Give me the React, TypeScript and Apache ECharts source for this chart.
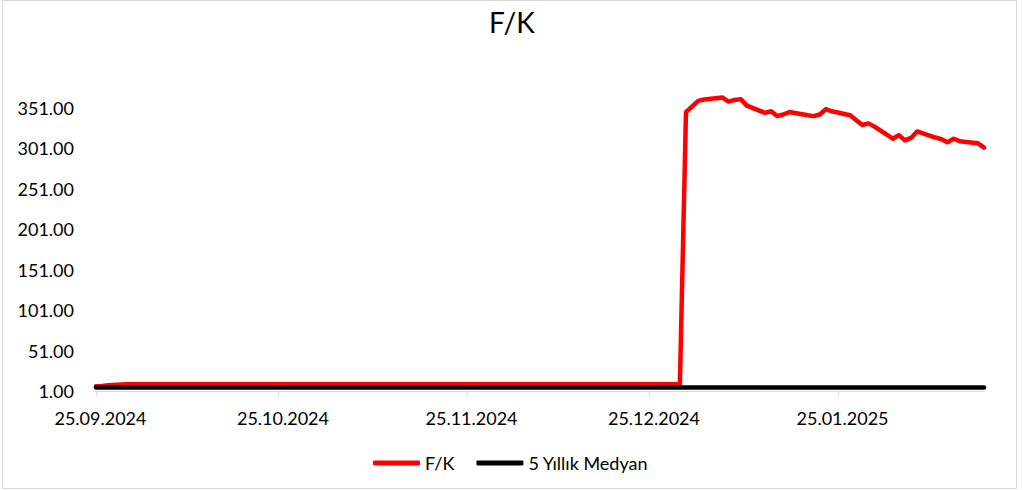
import React, { useEffect, useRef } from "react";
import * as echarts from "echarts";

// ---- data ----
const fkDates = [
  "2024-09-25", "2024-09-26", "2024-09-27", "2024-09-30", "2024-10-15", "2024-11-01",
  "2024-11-15", "2024-12-02", "2024-12-16", "2024-12-30", "2024-12-31", "2025-01-02",
  "2025-01-03", "2025-01-06", "2025-01-07", "2025-01-08", "2025-01-09", "2025-01-10",
  "2025-01-13", "2025-01-14", "2025-01-15", "2025-01-16", "2025-01-17", "2025-01-20",
  "2025-01-21", "2025-01-22", "2025-01-23", "2025-01-24", "2025-01-27", "2025-01-28",
  "2025-01-29", "2025-01-30", "2025-01-31", "2025-02-03", "2025-02-04", "2025-02-05",
  "2025-02-06", "2025-02-07", "2025-02-10", "2025-02-11", "2025-02-12", "2025-02-13",
  "2025-02-14", "2025-02-17", "2025-02-18",
];
const fkValues = [
  6.8, 7.2, 8, 9.5, 9.5, 9.5,
  9.5, 9.5, 9.5, 9.5, 346, 359.8,
  361.5, 364, 359, 361, 362, 354,
  345, 347, 341, 343, 346, 342,
  341, 343, 349.6, 347, 342, 336,
  330, 332, 328, 313, 317.5, 311,
  314, 322, 314.5, 312.5, 308.6, 313,
  310, 307.5, 302,
];
const medianDates = ["2024-09-25", "2025-02-18"];
const medianValues = [5.3, 5.3];
const tickDates = ["2024-09-25", "2024-10-25", "2024-11-25", "2024-12-25", "2025-01-25"];
const seriesNames = ["F/K", "5 Yıllık Medyan"];
const chartTitle = "F/K";

const ts = (s: string) => {
  const [y, m, d] = s.split("-").map(Number);
  return new Date(y, m - 1, d).getTime();
};
const pad = (n: number) => (n < 10 ? "0" + n : "" + n);
const fmtDate = (v: number) => {
  const d = new Date(v);
  return pad(d.getDate()) + "." + pad(d.getMonth() + 1) + "." + d.getFullYear();
};

const FONT = "Lato";

export default function App() {
  const ref = useRef<HTMLDivElement>(null);
  useEffect(() => {
    if (!ref.current) return;
    const chart = echarts.init(ref.current, null, { renderer: "svg" });
    const ticks = tickDates.map(ts);
    chart.setOption({
      animation: false,
      backgroundColor: "#fff",
      title: {
        text: chartTitle,
        left: 489,
        top: 8,
        padding: 0,
        textStyle: { fontSize: 28, fontWeight: "normal", fontFamily: FONT, color: "#000" },
      },
      graphic: [
        {
          type: "rect",
          silent: true,
          shape: { x: 2.5, y: 0.5, width: 1014, height: 488 },
          style: { fill: "none", stroke: "#d9d9d9", lineWidth: 1 },
        },
      ],
      legend: {
        data: seriesNames,
        left: 373,
        top: 454,
        padding: 0,
        itemWidth: 47,
        itemHeight: 5,
        itemGap: 22,
        icon: "roundRect",
        textStyle: { fontSize: 18, fontFamily: FONT, color: "#000" },
      },
      grid: { left: 96, right: 48, top: 67.6, bottom: 99 },
      xAxis: {
        type: "value",
        min: ts(fkDates[0]),
        max: ts(fkDates[fkDates.length - 1]),
        axisLine: { show: true, onZero: false, lineStyle: { color: "#d9d9d9", width: 1 } },
        axisTick: { show: true, customValues: ticks, length: 5, lineStyle: { color: "#d9d9d9" } },
        axisLabel: {
          customValues: ticks,
          formatter: (v: number) => fmtDate(v),
          fontSize: 18,
          fontFamily: FONT,
          color: "#000",
          margin: 18,
          padding: [0, 0, 0, 9],
        },
        splitLine: { show: false },
      },
      yAxis: {
        type: "value",
        min: 1,
        max: 401,
        interval: 50,
        axisLine: { show: false },
        axisTick: { show: false },
        splitLine: { show: false },
        axisLabel: {
          formatter: (v: number) => (v > 400 ? "" : v.toFixed(2)),
          fontSize: 18,
          fontFamily: FONT,
          color: "#000",
          margin: 22,
        },
      },
      series: [
        {
          name: seriesNames[0],
          type: "line",
          data: fkDates.map((d, i) => [ts(d), fkValues[i]]),
          symbol: "none",
          lineStyle: { color: "#ff0000", width: 4.5, cap: "round", join: "round" },
          itemStyle: { color: "#ff0000" },
        },
        {
          name: seriesNames[1],
          type: "line",
          data: medianDates.map((d, i) => [ts(d), medianValues[i]]),
          symbol: "none",
          lineStyle: { color: "#000", width: 4.5, cap: "round", join: "round" },
          itemStyle: { color: "#000" },
        },
      ],
    });
    return () => chart.dispose();
  }, []);
  return (
    <div
      ref={ref}
      style={{ position: "fixed", left: 0, top: 0, width: 1032, height: 490, background: "#fff" }}
    />
  );
}
